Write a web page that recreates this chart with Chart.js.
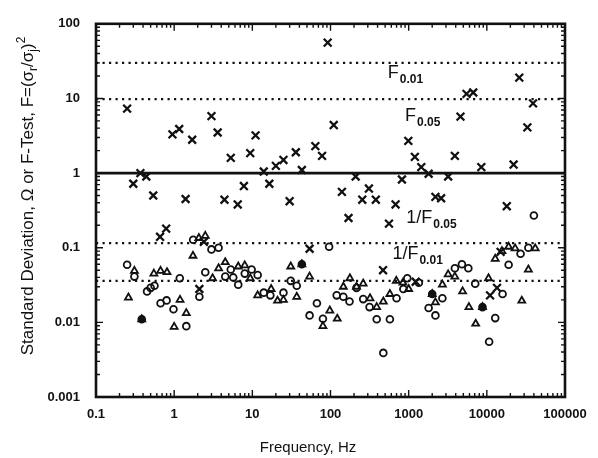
<!DOCTYPE html>
<html>
<head>
<meta charset="utf-8">
<script src="https://cdn.jsdelivr.net/npm/chart.js@4"></script>
<style>
  html, body { margin: 0; padding: 0; background: #fff; }
  #wrap { width: 598px; height: 458px; }
</style>
</head>
<body>
<div id="wrap"><canvas id="chart"></canvas></div>
<script>
// axes
const xTicks = [0.1, 1, 10, 100, 1000, 10000, 100000];
const xTickLabels = ['0.1', '1', '10', '100', '1000', '10000', '100000'];
const yTicks = [0.001, 0.01, 0.1, 1, 10, 100];
const yTickLabels = ['0.001', '0.01', '0.1', '1', '10', '100'];

// F-test ratios (x markers)
const crossFreq = [0.25, 0.3, 0.37, 0.44, 0.54, 0.66, 0.79, 0.95, 1.16, 1.4, 1.7, 2.1, 2.4, 3.0, 3.6, 4.4, 5.3, 6.5, 7.8, 9.4,
  11, 14, 16.5, 20, 25, 30, 36, 43, 54, 64, 78, 92, 110, 140, 170, 210, 255, 310, 380, 470,
  560, 680, 820, 990, 1200, 1230, 1450, 1800, 2200, 2600, 3200, 3900, 4600, 5500, 6700, 8500, 11000, 13500, 15000, 18000,
  22000, 26000, 33000, 39000];
const crossVal = [7.3, 0.72, 1.0, 0.9, 0.5, 0.14, 0.18, 3.3, 3.9, 0.45, 2.8, 0.028, 0.12, 5.8, 3.5, 0.44, 1.6, 0.38, 0.67, 1.85,
  3.2, 1.05, 0.72, 1.25, 1.5, 0.42, 1.9, 1.1, 0.097, 2.3, 1.7, 56, 4.4, 0.56, 0.25, 0.9, 0.44, 0.62, 0.44, 0.05,
  0.21, 0.38, 0.82, 2.7, 1.65, 0.035, 1.2, 0.98, 0.48, 0.46, 0.9, 1.7, 5.7, 11.5, 12, 1.2, 0.023, 0.029, 0.088, 0.36,
  1.3, 19, 4.1, 8.6];

// standard deviation, first set (open circles)
const circleFreq = [0.25, 0.31, 0.385, 0.45, 0.5, 0.56, 0.67, 0.8, 0.98, 1.18, 1.43, 1.75, 2.1, 2.5, 3.0, 3.7, 4.5, 5.3, 5.7, 6.6,
  8.0, 9.8, 11.7, 14, 17, 25, 31, 37, 43, 54, 67, 80, 96, 120, 146, 175, 215, 262, 316, 390,
  474, 575, 700, 855, 960, 1350, 1800, 2000, 2200, 2700, 3900, 4800, 5800, 7100, 8800, 10700, 12800, 15900, 19000, 27000,
  34000, 40000];
const circleVal = [0.059, 0.041, 0.011, 0.026, 0.029, 0.031, 0.018, 0.0197, 0.015, 0.039, 0.0089, 0.128, 0.022, 0.047, 0.095, 0.1, 0.041, 0.051, 0.04, 0.032,
  0.045, 0.051, 0.043, 0.025, 0.023, 0.025, 0.036, 0.031, 0.06, 0.0124, 0.018, 0.0112, 0.103, 0.023, 0.022, 0.019, 0.029, 0.0205, 0.016, 0.011,
  0.0039, 0.011, 0.021, 0.028, 0.039, 0.034, 0.0156, 0.024, 0.0124, 0.021, 0.053, 0.06, 0.053, 0.033, 0.016, 0.0055, 0.0114, 0.024, 0.059, 0.083,
  0.1, 0.27];
const circleFilled = [0.385, 43, 2000, 8800];

// standard deviation, second set (open triangles)
const triFreq = [0.26, 0.31, 0.385, 0.55, 0.67, 0.81, 1.0, 1.19, 1.43, 1.74, 2.07, 2.5, 3.1, 3.7, 4.5, 6.6, 8.0, 9.4, 11.7, 17.4,
  21, 25, 31, 37, 43, 54, 80, 98, 122, 146, 177, 215, 262, 320, 390, 474, 575, 695, 845, 1000,
  2000, 2200, 2700, 3200, 3900, 4900, 5900, 7200, 8800, 10500, 12800, 15600, 19000, 23000, 28000, 34000, 41600];
const triVal = [0.0215, 0.049, 0.011, 0.045, 0.049, 0.047, 0.0087, 0.02, 0.0133, 0.078, 0.135, 0.144, 0.039, 0.053, 0.064, 0.056, 0.058, 0.039, 0.023, 0.028,
  0.0195, 0.02, 0.056, 0.022, 0.06, 0.041, 0.0089, 0.0144, 0.0112, 0.03, 0.039, 0.03, 0.033, 0.021, 0.016, 0.019, 0.024, 0.036, 0.034, 0.028,
  0.024, 0.0185, 0.032, 0.044, 0.041, 0.026, 0.016, 0.0096, 0.016, 0.039, 0.071, 0.09, 0.103, 0.098, 0.0195, 0.051, 0.098];

// critical levels
const refLevels = [30, 9.8, 1, 0.115, 0.036];
const refNames = ['F', 'F', '', '1/F', '1/F'];
const refSubs = ['0.01', '0.05', '', '0.05', '0.01'];

const FONT = "'Liberation Sans', Arial, sans-serif";
const INK = '#111';

function pts(xs, ys) {
  return xs.map((f, i) => ({ x: f, y: ys[i] }));
}

const refSets = refLevels.map((lev, i) => ({
  type: 'line',
  data: [{ x: xTicks[0], y: lev }, { x: xTicks[xTicks.length - 1], y: lev }],
  borderColor: INK,
  borderWidth: lev === 1 ? 2.8 : 2.2,
  borderDash: lev === 1 ? [] : [2.2, 4.3],
  pointRadius: 0,
  fill: false
}));

// label placement for the critical-level lines (x in Hz, y offset in px from the line)
const refLabelPos = [
  { x: 540, dy: 15 },
  { x: 900, dy: 22 },
  null,
  { x: 930, dy: -20 },
  { x: 620, dy: -22 }
];

const framePlugin = {
  id: 'frame',
  afterDatasetsDraw(chart) {
    const { ctx, chartArea: a, scales } = chart;
    ctx.save();
    ctx.strokeStyle = INK;
    ctx.lineWidth = 2.6;
    ctx.strokeRect(a.left, a.top, a.right - a.left, a.bottom - a.top);
    ctx.lineWidth = 1.4;
    ctx.beginPath();
    for (let k = -1; k <= 4; k++) {
      for (let m = 1; m <= 9; m++) {
        const v = m * Math.pow(10, k);
        const p = scales.x.getPixelForValue(v);
        const len = m === 1 ? 7 : 4;
        ctx.moveTo(p, a.bottom); ctx.lineTo(p, a.bottom - len);
        ctx.moveTo(p, a.top); ctx.lineTo(p, a.top + len);
      }
    }
    for (let k = -3; k <= 1; k++) {
      for (let m = 1; m <= 9; m++) {
        const v = m * Math.pow(10, k);
        const p = scales.y.getPixelForValue(v);
        const len = m === 1 ? 7 : 4;
        ctx.moveTo(a.left, p); ctx.lineTo(a.left + len, p);
        ctx.moveTo(a.right, p); ctx.lineTo(a.right - len, p);
      }
    }
    ctx.stroke();

    // labels on the critical-level lines
    ctx.fillStyle = INK;
    ctx.textBaseline = 'alphabetic';
    ctx.textAlign = 'left';
    refLevels.forEach((lev, i) => {
      const pos = refLabelPos[i];
      if (!pos) return;
      const x = scales.x.getPixelForValue(pos.x);
      const y = scales.y.getPixelForValue(lev) + pos.dy;
      ctx.font = '18px ' + FONT;
      ctx.fillText(refNames[i], x, y);
      const w = ctx.measureText(refNames[i]).width;
      ctx.font = 'bold 12px ' + FONT;
      ctx.fillText(refSubs[i], x + w + 1, y + 5);
    });

    // x axis title
    ctx.font = '15px ' + FONT;
    ctx.textAlign = 'center';
    ctx.fillText('Frequency, Hz', 308, 452);

    // y axis title with sub/superscripts
    const parts = [
      { t: 'Standard Deviation, \u03A9 or F-Test, F=(\u03C3', s: 0 },
      { t: 'r', s: 1 },
      { t: '/\u03C3', s: 0 },
      { t: 'j', s: 1 },
      { t: ')', s: 0 },
      { t: '2', s: -1 }
    ];
    let total = 0;
    parts.forEach(p => {
      ctx.font = (p.s ? '12px ' : '17px ') + FONT;
      p.w = ctx.measureText(p.t).width;
      total += p.w;
    });
    ctx.translate(33, 196);
    ctx.rotate(-Math.PI / 2);
    ctx.textAlign = 'left';
    let cx = -total / 2;
    parts.forEach(p => {
      ctx.font = (p.s ? '12px ' : '17px ') + FONT;
      ctx.fillText(p.t, cx, p.s === 1 ? 4 : (p.s === -1 ? -8 : 0));
      cx += p.w;
    });
    ctx.restore();
  }
};

new Chart(document.getElementById('chart'), {
  type: 'scatter',
  data: {
    datasets: [
      ...refSets,
      {
        data: pts(triFreq, triVal),
        pointStyle: 'triangle',
        pointRadius: 4,
        pointBorderWidth: 1.8,
        borderColor: INK,
        backgroundColor: 'rgba(0,0,0,0)'
      },
      {
        data: pts(circleFreq, circleVal),
        pointStyle: 'circle',
        pointRadius: 3.4,
        pointBorderWidth: 1.8,
        borderColor: INK,
        backgroundColor: ctx => (ctx.raw && circleFilled.includes(ctx.raw.x)) ? INK : 'rgba(0,0,0,0)'
      },
      {
        data: pts(crossFreq, crossVal),
        pointStyle: 'crossRot',
        pointRadius: 5.5,
        pointBorderWidth: 2.3,
        borderColor: INK
      }
    ]
  },
  options: {
    responsive: true,
    maintainAspectRatio: false,
    animation: false,
    layout: { padding: { top: 17, right: 33, left: 0, bottom: 0 } },
    plugins: { legend: { display: false }, tooltip: { enabled: false } },
    scales: {
      x: {
        type: 'logarithmic',
        min: 0.1,
        max: 100000,
        grid: { display: false, drawTicks: false },
        border: { display: false },
        afterBuildTicks: s => { s.ticks = xTicks.map(v => ({ value: v })); },
        afterFit: s => { s.height = 61; },
        ticks: {
          color: INK,
          padding: 10,
          autoSkip: false,
          maxRotation: 0,
          font: { family: FONT, size: 13, weight: 'bold' },
          callback: (v, i) => xTickLabels[i]
        }
      },
      y: {
        type: 'logarithmic',
        min: 0.001,
        max: 100,
        grid: { display: false, drawTicks: false },
        border: { display: false },
        afterBuildTicks: s => { s.ticks = yTicks.map(v => ({ value: v })); },
        afterFit: s => { s.width = 96; },
        ticks: {
          color: INK,
          padding: 16,
          autoSkip: false,
          font: { family: FONT, size: 13, weight: 'bold' },
          callback: (v, i) => yTickLabels[i]
        }
      }
    }
  },
  plugins: [framePlugin]
});
</script>
</body>
</html>
